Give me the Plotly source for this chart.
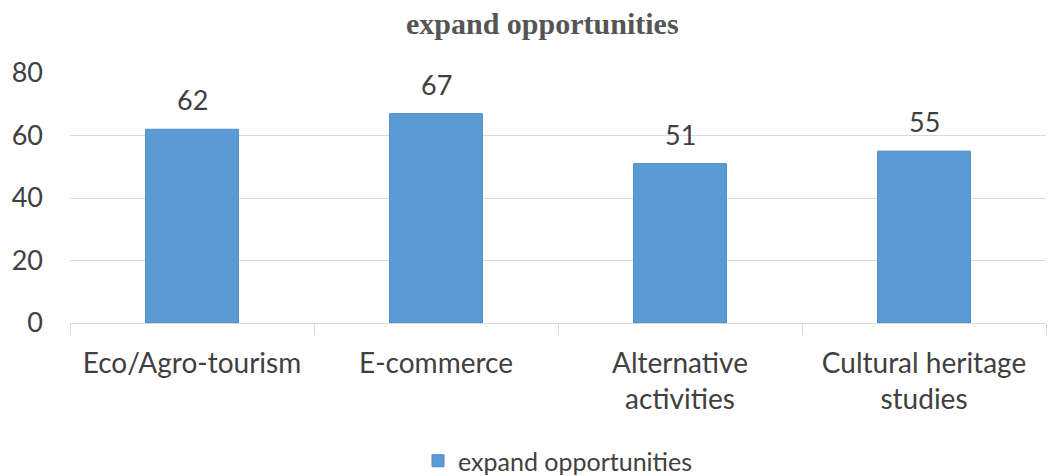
import plotly.graph_objects as go

# Survey results: share of respondents per opportunity area
categories = ["Eco/Agro-tourism", "E-commerce", "Alternative<br>activities", "Cultural heritage<br>studies"]
values = [62, 67, 51, 55]
series_name = "expand opportunities"
y_ticks = [0, 20, 40, 60, 80]

BAR_FILL = "#5B9BD5"
BAR_EDGE = "#4A89C5"
TEXT = "#404040"
GRID = "#D9D9D9"
FONT = "Lato, Calibri, sans-serif"

fig = go.Figure()
fig.add_trace(go.Bar(
    x=categories,
    y=values,
    name=series_name,
    marker=dict(color=BAR_FILL, line=dict(color=BAR_EDGE, width=1)),
    showlegend=True,
))

# value labels above each bar
for cat, val in zip(categories, values):
    fig.add_annotation(
        x=cat, y=val, text=str(val), showarrow=False,
        yanchor="bottom", yshift=11,
        font=dict(family=FONT, size=27, color=TEXT),
    )

fig.update_layout(
    width=1053, height=476,
    margin=dict(l=70, r=7, t=73, b=153, autoexpand=False),
    paper_bgcolor="white", plot_bgcolor="white",
    bargap=0.62,
    title=dict(
        text="<b>expand opportunities</b>",
        font=dict(family="Liberation Serif, Times New Roman, serif", size=30, color="#555555"),
        x=0.515, xanchor="center", y=0.95, yanchor="middle",
    ),
    legend=dict(
        orientation="h", x=0.5, xanchor="center", y=-0.552, yanchor="middle",
        font=dict(family=FONT, size=25, color=TEXT),
        itemwidth=30,
    ),
    font=dict(family=FONT, color=TEXT),
)

fig.update_xaxes(
    type="category",
    automargin=False,
    showgrid=False,
    showline=True, linecolor=GRID, linewidth=1,
    ticks="outside", tickson="boundaries", ticklen=11, tickcolor=GRID,
    tickfont=dict(family=FONT, size=28, color=TEXT),
    ticklabelstandoff=15,
)
fig.update_yaxes(
    range=[0, 80],
    automargin=False,
    tickvals=y_ticks,
    showgrid=True, gridcolor=GRID, gridwidth=1,
    zeroline=False, showline=False,
    tickfont=dict(family=FONT, size=27, color=TEXT),
    ticklabelstandoff=26,
)

fig.write_html("out.html")
